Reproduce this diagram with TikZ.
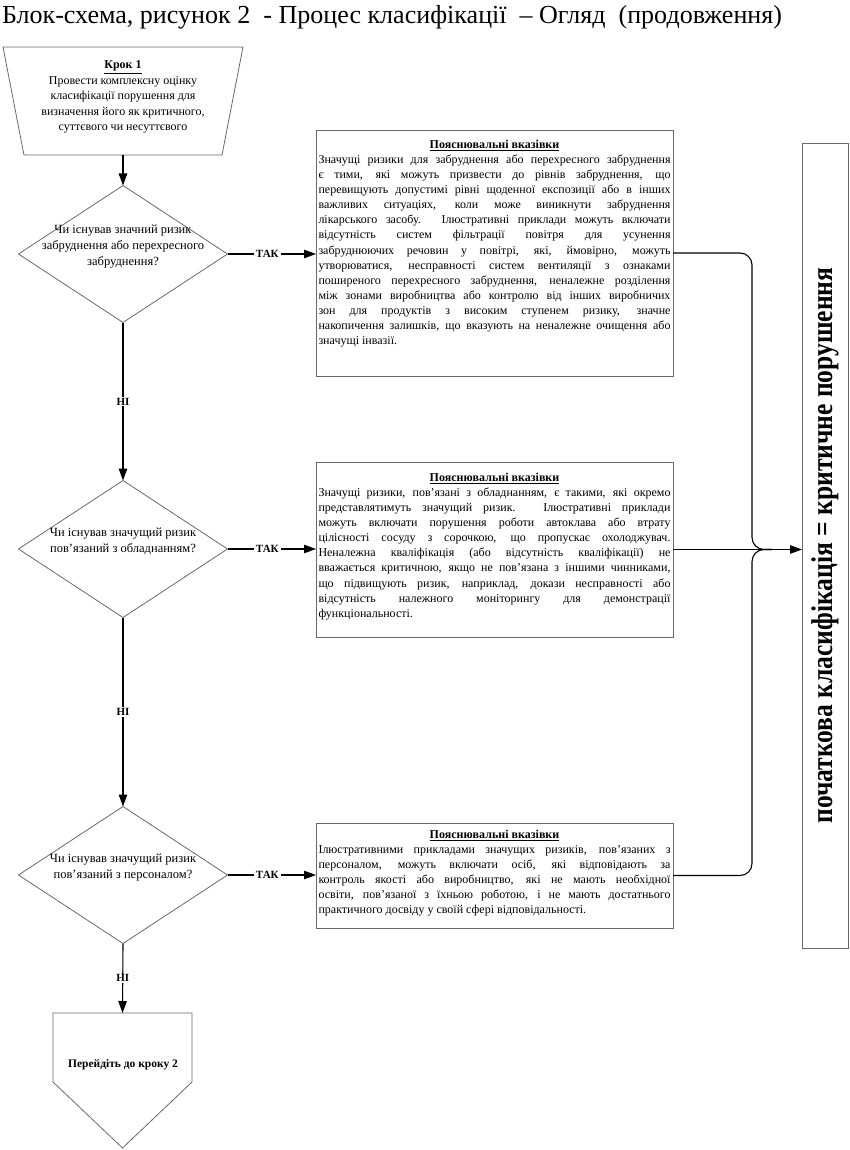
\documentclass[tikz,border=0pt]{standalone}
\usepackage{fontspec}
\setmainfont{Liberation Serif}
\usetikzlibrary{arrows.meta,shapes.geometric,calc}
\definecolor{bgray}{RGB}{105,105,105}
\begin{document}
\begin{tikzpicture}[x=1pt,y=-1pt,
  every node/.style={inner sep=0pt,outer sep=0pt},
  shp/.style={draw=bgray,line width=0.8pt},
  conn/.style={line width=1.1pt,black},
  arr/.style={conn,-{Triangle[length=12pt,width=8.5pt]}},
  lbl/.style={fill=white,inner xsep=2pt,inner ysep=1pt,font=\fontsize{11}{11}\selectfont\bfseries},
  bx/.style={shp,rectangle,minimum width=357pt},
  boxtext/.style={anchor=north,text width=352pt,align=justify,font=\fontsize{12}{15.1}\selectfont,
    execute at begin node={\setlength{\parindent}{0pt}\tolerance=10000\hbadness=10000\hyphenpenalty=10000}},
  dia/.style={shp,diamond,minimum width=209pt,minimum height=137pt},
  dtext/.style={align=center,font=\fontsize{12.5}{16}\selectfont},
  stext/.style={align=center,font=\fontsize{12}{15.5}\selectfont}
]
\useasboundingbox (0,0) rectangle (850,1150);

% title
\node[anchor=base west] (title) at (2,24) {\resizebox{780pt}{\height}{\fontsize{26}{26}\selectfont Блок-схема, рисунок 2\ \ - Процес класифікації\ \ – Огляд\ \ (продовження)}};

% step 1 trapezoid
\node[minimum width=240pt,minimum height=108pt] (s1) at (123,101) {};
\draw[shp] (s1.north west) -- (s1.north east) -- ($(s1.south east)+(-21,0)$) -- ($(s1.south west)+(21,0)$) -- cycle;
\node[stext,anchor=north] (s1t) at (123,61) {\textbf{\underline{Крок 1}}\\Провести комплексну оцінку\\класифікації порушення для\\визначення його як критичного,\\суттєвого чи несуттєвого};

% diamonds
\node[dia] (d1) at (123,254) {};
\node[dtext] (d1t) at ($(d1)+(0,-7)$) {Чи існував значний ризик\\забруднення або перехресного\\забруднення?};
\node[dia] (d2) at (123,549) {};
\node[dtext] (d2t) at ($(d2)+(0,-8)$) {Чи існував значущий ризик\\пов’язаний з обладнанням?};
\node[dia] (d3) at (123,875) {};
\node[dtext] (d3t) at ($(d3)+(0,-7)$) {Чи існував значущий ризик\\пов’язаний з персоналом?};

% pentagon
\node[minimum width=139pt,minimum height=69pt] (p) at (122.5,1047.5) {};
\coordinate (ptip) at (122.5,1148);
\draw[shp] (p.north west) -- (p.north east) -- (p.south east) -- (ptip) -- (p.south west) -- cycle;
\node[font=\fontsize{11.5}{11.5}\selectfont\bfseries,anchor=base] (pt) at (123,1067) {Перейдіть до кроку 2};

% boxes
\node[bx,minimum height=246pt] (b1) at (494.5,253) {};
\node[boxtext] (b1t) at (494.5,140) {{\centering\textbf{\underline{Пояснювальні вказівки}}\par}
Значущі ризики для забруднення або перехресного забруднення\linebreak
є тими, які можуть призвести до рівнів забруднення, що\linebreak
перевищують допустимі рівні щоденної експозиції або в інших\linebreak
важливих ситуаціях, коли може виникнути забруднення\linebreak
лікарського засобу. Ілюстративні приклади можуть включати\linebreak
відсутність систем фільтрації повітря для усунення\linebreak
забруднюючих речовин у повітрі, які, ймовірно, можуть\linebreak
утворюватися, несправності систем вентиляції з ознаками\linebreak
поширеного перехресного забруднення, неналежне розділення\linebreak
між зонами виробництва або контролю від інших виробничих\linebreak
зон для продуктів з високим ступенем ризику, значне\linebreak
накопичення залишків, що вказують на неналежне очищення або\linebreak
значущі інвазії.};

\node[bx,minimum height=175pt] (b2) at (494.5,549.5) {};
\node[boxtext] (b2t) at (494.5,473) {{\centering\textbf{\underline{Пояснювальні вказівки}}\par}
Значущі ризики, пов’язані з обладнанням, є такими, які окремо\linebreak
представлятимуть значущий ризик. Ілюстративні приклади\linebreak
можуть включати порушення роботи автоклава або втрату\linebreak
цілісності сосуду з сорочкою, що пропускає охолоджувач.\linebreak
Неналежна кваліфікація (або відсутність кваліфікації) не\linebreak
вважається критичною, якщо не пов’язана з іншими чинниками,\linebreak
що підвищують ризик, наприклад, докази несправності або\linebreak
відсутність належного моніторингу для демонстрації\linebreak
функціональності.};

\node[bx,minimum height=105pt] (b3) at (494.5,875.5) {};
\node[boxtext] (b3t) at (494.5,830) {{\centering\textbf{\underline{Пояснювальні вказівки}}\par}
Ілюстративними прикладами значущих ризиків, пов’язаних з\linebreak
персоналом, можуть включати осіб, які відповідають за\linebreak
контроль якості або виробництво, які не мають необхідної\linebreak
освіти, пов’язаної з їхньою роботою, і не мають достатнього\linebreak
практичного досвіду у своїй сфері відповідальності.};

% right result box
\node[shp,minimum width=46pt,minimum height=805pt] (rb) at (825,545.5) {};
\node (rbt) at (rb.center) {\rotatebox{90}{\resizebox{556pt}{\height}{\fontsize{30}{30}\selectfont\bfseries початкова класифікація = критичне порушення}}};

% connectors
\draw[arr] (s1.south) -- (d1.north);
\draw[arr] (d1.south) -- node[lbl]{НІ} (d2.north);
\draw[arr] (d2.south) -- node[lbl]{НІ} (d3.north);
\draw[arr] (d3.south) -- node[lbl]{НІ} (p.north);
\draw[arr] (d1.east) -- node[lbl,pos=0.45]{ТАК} (d1.east -| b1.west);
\draw[arr] (d2.east) -- node[lbl,pos=0.45]{ТАК} (d2.east -| b2.west);
\draw[arr] (d3.east) -- node[lbl,pos=0.45]{ТАК} (d3.east -| b3.west);

\coordinate (J) at (772,549.5);
\coordinate (V1) at (752,549.5);
\draw[conn,rounded corners=12pt] (b1.east) -| (V1) -- (J);
\draw[conn,rounded corners=12pt] (b3.east) -| (V1) -- (J);
\draw[arr] (b2.east) -- (b2.east -| rb.west);
\end{tikzpicture}
\end{document}
